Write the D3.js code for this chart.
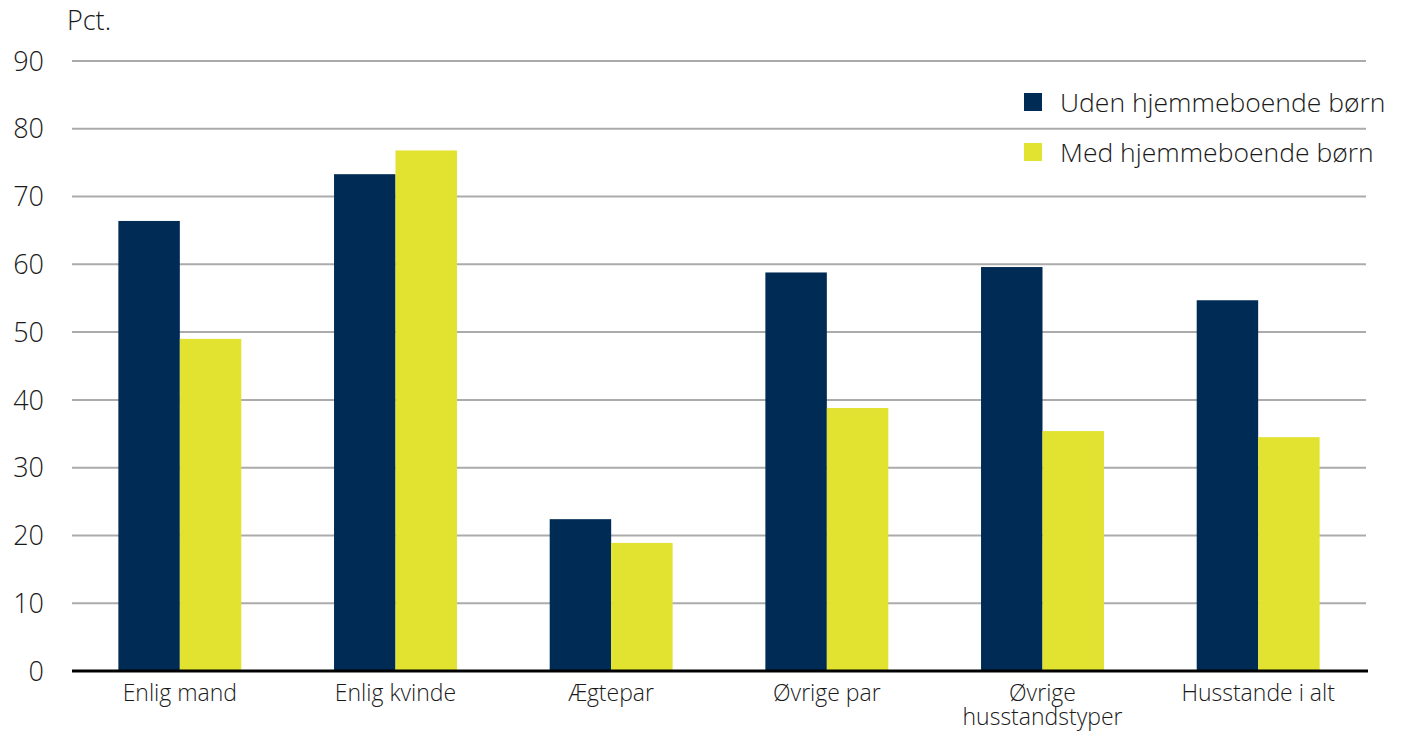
<!DOCTYPE html>
<html>
<head>
<meta charset="utf-8">
<script src="https://cdn.jsdelivr.net/npm/d3@7/dist/d3.min.js"></script>
<style>
  html, body { margin: 0; padding: 0; background: #fff; }
  svg { display: block; font-family: "Open Sans", sans-serif; font-weight: 300; }
</style>
</head>
<body>
<svg id="chart" width="1402" height="732"></svg>
<script>
// Household types and share (pct.) with / without children living at home
const categories = ["Enlig mand", "Enlig kvinde", "Ægtepar", "Øvrige par", "Øvrige husstandstyper", "Husstande i alt"];
const categoryLines = [["Enlig mand"], ["Enlig kvinde"], ["Ægtepar"], ["Øvrige par"], ["Øvrige", "husstandstyper"], ["Husstande i alt"]];
const seriesNames = ["Uden hjemmeboende børn", "Med hjemmeboende børn"];
const udenBoern = [66.4, 73.3, 22.4, 58.8, 59.6, 54.7];
const medBoern = [49.0, 76.8, 18.9, 38.8, 35.4, 34.5];
const yTicks = [0, 10, 20, 30, 40, 50, 60, 70, 80, 90];
const colors = ["#002b54", "#e2e331"];

const svg = d3.select("#chart");
const margin = { left: 72, right: 36, top: 61, bottom: 61 };
const width = 1402, height = 732;
const plotRight = width - margin.right;
const plotBottom = height - margin.bottom;

const x = d3.scaleBand().domain(categories).range([margin.left, plotRight]).paddingInner(0).paddingOuter(0);
const barW = x.bandwidth() * 0.285;
const xs = d3.scaleBand().domain(seriesNames).range([0, barW * 2]);
const y = d3.scaleLinear().domain([0, 90]).range([plotBottom, margin.top]);

// Gridlines
svg.append("g")
  .selectAll("line")
  .data(yTicks.filter(t => t > 0))
  .join("line")
  .attr("x1", margin.left).attr("x2", plotRight)
  .attr("y1", d => y(d)).attr("y2", d => y(d))
  .attr("stroke", "#ababab").attr("stroke-width", 2);

// Y tick labels
svg.append("g")
  .selectAll("text")
  .data(yTicks)
  .join("text")
  .attr("x", 44).attr("y", d => y(d))
  .attr("dy", "0.36em")
  .attr("text-anchor", "end")
  .attr("font-size", 27)
  .attr("fill", "#1a1a1a")
  .text(d => d);

svg.append("text")
  .attr("x", 67).attr("y", 30)
  .attr("font-size", 27)
  .attr("fill", "#1a1a1a")
  .text("Pct.");

// Bars
const rows = categories.map((c, i) => ({ cat: c, vals: [udenBoern[i], medBoern[i]] }));
const groups = svg.append("g")
  .selectAll("g")
  .data(rows)
  .join("g")
  .attr("transform", d => `translate(${x(d.cat) + x.bandwidth() / 2 - barW},0)`);

groups.selectAll("rect")
  .data(d => d.vals.map((v, j) => ({ name: seriesNames[j], v, j })))
  .join("rect")
  .attr("x", d => xs(d.name))
  .attr("width", xs.bandwidth())
  .attr("y", d => y(d.v))
  .attr("height", d => y(0) - y(d.v))
  .attr("fill", d => colors[d.j]);

// Baseline
svg.append("line")
  .attr("x1", margin.left).attr("x2", plotRight + 2)
  .attr("y1", y(0)).attr("y2", y(0))
  .attr("stroke", "#000").attr("stroke-width", 3);

// Category labels
const catLabels = svg.append("g")
  .selectAll("text")
  .data(categories)
  .join("text")
  .attr("x", d => x(d) + x.bandwidth() / 2)
  .attr("y", 701)
  .attr("text-anchor", "middle")
  .attr("font-size", 23)
  .attr("fill", "#1a1a1a");
catLabels.each(function(d, i) {
  const t = d3.select(this);
  categoryLines[i].forEach((line, k) => {
    t.append("tspan")
      .attr("x", x(d) + x.bandwidth() / 2)
      .attr("dy", k === 0 ? 0 : 24)
      .text(line);
  });
});

// Legend
const legend = svg.append("g").attr("transform", "translate(1024,93)");
seriesNames.forEach((name, i) => {
  const g = legend.append("g").attr("transform", `translate(0,${i * 50})`);
  g.append("rect").attr("width", 18).attr("height", 18).attr("fill", colors[i]);
  g.append("text")
    .attr("x", 36).attr("y", 9)
    .attr("dy", "0.36em")
    .attr("font-size", 26.5)
    .attr("fill", "#1a1a1a")
    .text(name);
});
</script>
</body>
</html>
